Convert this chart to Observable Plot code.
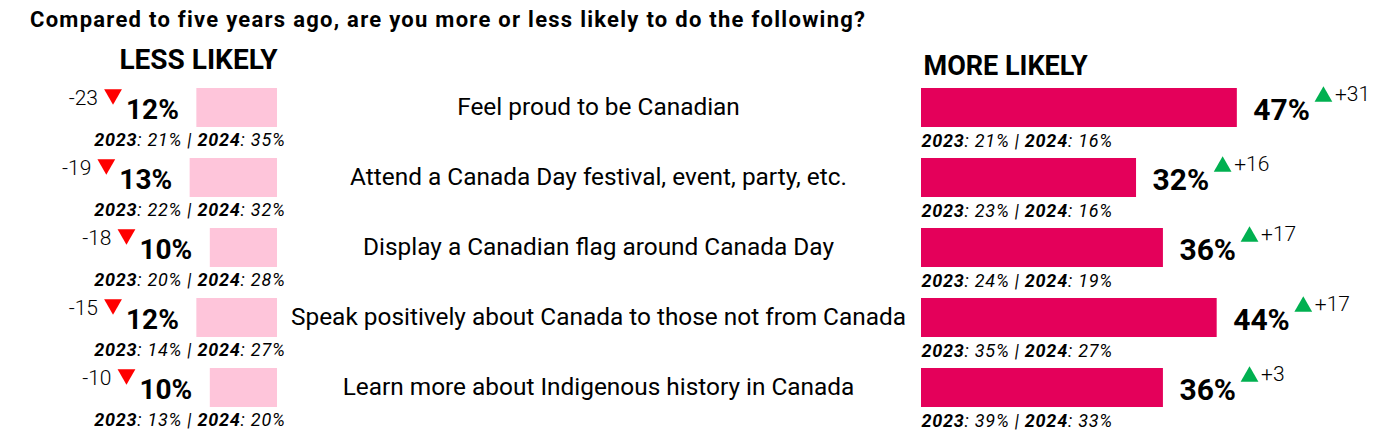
<!DOCTYPE html>
<html><head><meta charset="utf-8">
<script src="https://cdn.jsdelivr.net/npm/d3@7"></script>
<script src="https://cdn.jsdelivr.net/npm/@observablehq/plot@0.6"></script>
<style>
body{margin:0;background:#fff;}
#title{position:absolute;left:30px;top:10px;font:700 22px/20px Roboto,sans-serif;color:#000;white-space:nowrap}
#chart{position:absolute;left:0;top:40px}
</style></head><body>
<div id="title"></div>
<div id="chart"></div>
<script>
// ---- data ----
const title = "Compared to five years ago, are you more or less likely to do the following?";
const headerLess = "LESS LIKELY";
const headerMore = "MORE LIKELY";
const categories = [
  "Feel proud to be Canadian",
  "Attend a Canada Day festival, event, party, etc.",
  "Display a Canadian flag around Canada Day",
  "Speak positively about Canada to those not from Canada",
  "Learn more about Indigenous history in Canada"
];
const less2025 = [12, 13, 10, 12, 10];
const lessChange = [-23, -19, -18, -15, -10];
const less2023 = [21, 22, 20, 14, 13];
const less2024 = [35, 32, 28, 27, 20];
const more2025 = [47, 32, 36, 44, 36];
const moreChange = [31, 16, 17, 17, 3];
const more2023 = [21, 23, 24, 35, 39];
const more2024 = [16, 16, 19, 27, 33];

// ---- layout ----
const FONT = "Roboto";
const W = 1393, H = 402;
const pxPerPct = 6.72;
const rightBasePx = 921, leftBasePx = 277, centerPx = 598;
const titleWidthPx = 836;
const u = p => p / pxPerPct;                       // pixels -> scale units
const leftBase = u(leftBasePx - rightBasePx);     // left bars' baseline, in % units
const centerX = u(centerPx - rightBasePx);

const ctx = document.createElement("canvas").getContext("2d");
const tw = (s, font) => { ctx.font = font; return ctx.measureText(s).width; };

const rows = categories.map((cat, i) => {
  const lp = less2025[i] + "%", rp = more2025[i] + "%";
  const lw = tw(lp, `700 28px ${FONT}`), rw = tw(rp, `700 30px ${FONT}`);
  const lPctX = leftBase - less2025[i] - u(18);
  const rPctX = more2025[i] + u(16);
  return {
    cat, less: less2025[i], more: more2025[i],
    lessChg: String(lessChange[i]), moreChg: "+" + moreChange[i],
    lessSub: `2023: ${less2023[i]}% | 2024: ${less2024[i]}%`,
    moreSub: `2023: ${more2023[i]}% | 2024: ${more2024[i]}%`,
    lPctX, lTriX: lPctX - u(lw + 4 + 9), lChgX: lPctX - u(lw + 4 + 18 + 6),
    rPctX, rTriX: rPctX + u(rw + 4 + 9.5), rChgX: rPctX + u(rw + 4 + 19 + 2)
  };
});

const titleEl = document.getElementById("title");
titleEl.textContent = title;
const tW = tw(title, `700 22px ${FONT}`);
titleEl.style.letterSpacing = Math.max(0, (titleWidthPx - tW) / title.length) + "px";

const plot = Plot.plot({
  width: W, height: H,
  marginTop: 47.7, marginBottom: 35, marginLeft: 0, marginRight: 0,
  style: {fontFamily: FONT, color: "#000", background: "#fff"},
  x: {domain: [0, 50], range: [rightBasePx, rightBasePx + 50 * pxPerPct], axis: null},
  y: {domain: categories, paddingInner: 0.45, paddingOuter: 0, axis: null},
  marks: [
    Plot.barX(rows, {y: "cat", x1: d => leftBase - d.less, x2: () => leftBase, fill: "#FEC5DA"}),
    Plot.barX(rows, {y: "cat", x1: () => 0, x2: "more", fill: "#E4005A"}),
    // left annotations
    Plot.text(rows, {x: "lPctX", y: "cat", text: d => d.less + "%", textAnchor: "end", lineAnchor: "bottom", dy: 11, fontSize: 28, fontWeight: 700, fill: "#000"}),
    Plot.dot(rows, {x: "lTriX", y: "cat", symbol: "triangle", r: 6.6, rotate: 180, fill: "#FF0000", stroke: "none", dy: -13.6}),
    Plot.text(rows, {x: "lChgX", y: "cat", text: "lessChg", textAnchor: "end", lineAnchor: "bottom", dy: -3, fontSize: 21, fontWeight: 300, fill: "#000"}),
    Plot.text(rows, {x: () => leftBase + u(8), y: "cat", text: "lessSub", textAnchor: "end", lineAnchor: "bottom", dy: 38, fontSize: 18, fontStyle: "italic", fill: "#000"}),
    // center labels
    Plot.text(rows, {x: () => centerX, y: "cat", text: "cat", textAnchor: "middle", lineAnchor: "middle", dy: -1, fontSize: 24.4, fill: "#000"}),
    // right annotations
    Plot.text(rows, {x: "rPctX", y: "cat", text: d => d.more + "%", textAnchor: "start", lineAnchor: "bottom", dy: 12, fontSize: 30, fontWeight: 700, fill: "#000"}),
    Plot.dot(rows, {x: "rTriX", y: "cat", symbol: "triangle", r: 6.6, fill: "#00B050", stroke: "none", dy: -11.4}),
    Plot.text(rows, {x: "rChgX", y: "cat", text: "moreChg", textAnchor: "start", lineAnchor: "bottom", dy: -7, fontSize: 21, fontWeight: 300, fill: "#000"}),
    Plot.text(rows, {x: () => 0, y: "cat", text: "moreSub", textAnchor: "start", lineAnchor: "bottom", dy: 39, fontSize: 18, fontStyle: "italic", fill: "#000"}),
    // headers
    Plot.text([headerLess], {x: () => leftBase, text: d => d, frameAnchor: "top", textAnchor: "end", lineAnchor: "bottom", dy: -19.7, fontSize: 28, fontWeight: 700, fill: "#000"}),
    Plot.text([headerMore], {x: () => u(2), text: d => d, frameAnchor: "top", textAnchor: "start", lineAnchor: "bottom", dy: -13.7, fontSize: 27, fontWeight: 700, fill: "#000"})
  ]
});

// bold years inside the "2023: x% | 2024: y%" labels
const NS = "http://www.w3.org/2000/svg";
plot.querySelectorAll("text").forEach(t => {
  const m = /^(\d{4})(: [^|]*\|\s?)(\d{4})(: .*)$/.exec(t.textContent);
  if (!m) return;
  t.textContent = "";
  t.setAttribute("letter-spacing", "0.75");
  [[m[1], true], [m[2], false], [m[3], true], [m[4], false]].forEach(([s, b]) => {
    const ts = document.createElementNS(NS, "tspan");
    ts.textContent = s;
    if (b) ts.setAttribute("font-weight", "700");
    t.appendChild(ts);
  });
});

document.getElementById("chart").appendChild(plot);
</script>
</body></html>
